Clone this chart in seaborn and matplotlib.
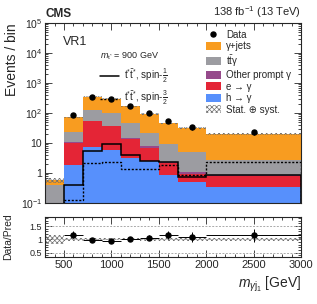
import matplotlib
matplotlib.use("Agg")
import matplotlib.pyplot as plt
import matplotlib.ticker as mticker
from matplotlib.lines import Line2D
from matplotlib.patches import Patch
import numpy as np
import pandas as pd
import seaborn as sns

# binning in m_gamma j1 [GeV]
bin_edges = [300, 500, 700, 900, 1100, 1300, 1500, 1700, 2000, 3000]

# background yields per bin
h_to_gamma = [0.02, 1.85, 7.4, 5.8, 3.2, 2.5, 0.85, 0.5, 0.34]
e_to_gamma = [0.01, 8.15, 45.6, 30.2, 10.3, 4.3, 1.25, 0.43, 0.46]
other_prompt = [0.01, 0.5, 2.0, 2.0, 1.2, 1.2, 0.2, 0.12, 0.05]
ttgamma = [0.36, 12.5, 71.0, 62.0, 31.3, 13.5, 7.0, 3.95, 1.85]
gamma_jets = [0.18, 50.0, 224.0, 205.0, 124.0, 72.5, 36.7, 26.6, 17.3]
bkg_rel_unc = [0.17, 0.05, 0.04, 0.04, 0.04, 0.05, 0.05, 0.06, 0.06]

# observed data
data = [np.nan, 86, 340, 290, 170, 100, 54, 34, 23]
data_err = [np.nan, 9.3, 18.4, 17.0, 13.0, 10.0, 7.3, 5.8, 4.8]

# signal, m_t* = 900 GeV
spin_half = [0.05, 0.4, 5.5, 9.3, 4.0, 2.6, 2.3, 0.74, 0.87]
spin_threehalf = [0.04, 0.13, 2.15, 2.3, 1.36, 1.36, 1.8, 0.85, 2.3]

proc_names = ["γ+jets", r"$\mathrm{t\bar{t}}$γ", "Other prompt γ", "e → γ", "h → γ"]
proc_colors = ["#f89c20", "#9c9ca1", "#964a8b", "#e42536", "#5790fc"]
proc_values = [gamma_jets, ttgamma, other_prompt, e_to_gamma, h_to_gamma]

sns.set_theme(style="ticks")
plt.rcParams["font.family"] = ["Liberation Sans", "DejaVu Sans"]
plt.rcParams["mathtext.fontset"] = "custom"
plt.rcParams["mathtext.rm"] = "Liberation Sans"
plt.rcParams["mathtext.it"] = "Liberation Sans:italic"
plt.rcParams["mathtext.bf"] = "Liberation Sans:bold"
plt.rcParams["hatch.linewidth"] = 0.5

HATCH = "xxxxxxx"
HATCH_COL = "#707070"

edges = np.array(bin_edges, dtype=float)
centers = (edges[:-1] + edges[1:]) / 2
widths = np.diff(edges)
total = np.sum(np.array(proc_values), axis=0)
unc = np.array(bkg_rel_unc)

df = pd.DataFrame({
    "mass": np.tile(centers, len(proc_names)),
    "events": np.concatenate(proc_values),
    "process": np.repeat(proc_names, len(centers)),
})

fig = plt.figure(figsize=(3.17, 3.04), dpi=100)
ax = fig.add_axes([0.142, 0.332, 0.808, 0.592])
rax = fig.add_axes([0.142, 0.155, 0.808, 0.131])

ax.set_yscale("log")
sns.histplot(
    df, x="mass", weights="events", hue="process", hue_order=proc_names,
    bins=bin_edges, multiple="stack", element="step", palette=proc_colors,
    alpha=1, linewidth=0, legend=False, ax=ax,
)
ax.bar(edges[:-1], 2 * unc * total, bottom=total * (1 - unc), width=widths,
       align="edge", color="none", hatch=HATCH, edgecolor=HATCH_COL, linewidth=0)
ax.stairs(spin_half, edges, color="black", lw=1.1)
ax.stairs(spin_threehalf, edges, color="black", lw=1.0, ls=(0, (1.5, 1.2)))
ax.errorbar(centers, data, yerr=data_err, fmt="o", color="black",
            ms=3.6, elinewidth=0.7, capsize=0)

ax.set_xlim(300, 3000)
ax.set_ylim(0.1, 1e5)
ax.set_xlabel("")
ax.set_ylabel("Events / bin", fontsize=10, loc="top")
ax.yaxis.set_label_coords(-0.1, 1.0)
ax.tick_params(labelbottom=False)


def log_label(v, pos):
    if np.isclose(v, 1):
        return "1"
    if np.isclose(v, 10):
        return "10"
    return r"$10^{%d}$" % int(round(np.log10(v)))


# ratio panel
ratio = np.array(data) / total
ratio_err = np.array(data_err) / total
rax.bar(edges[:-1], 2 * unc, bottom=1 - unc, width=widths, align="edge",
        color="none", hatch=HATCH, edgecolor=HATCH_COL, linewidth=0)
for lvl in [0.5, 1.0, 1.5]:
    rax.axhline(lvl, color="#aaaaaa", lw=0.7, ls=(0, (2, 1.5)))
rax.errorbar(centers, ratio, yerr=ratio_err, xerr=widths / 2, fmt="o", color="black",
             ms=3.6, elinewidth=0.7, capsize=0)
rax.set_xlim(300, 3000)
rax.set_ylim(0.34, 1.84)
rax.set_ylabel("Data/Pred", fontsize=7.5)
rax.yaxis.set_label_coords(-0.125, 0.5)
rax.set_xlabel(r"$m_{\gamma \mathrm{j}_1}$ [GeV]", fontsize=10, loc="right")
rax.xaxis.set_label_coords(1.0, -0.45)
rax.yaxis.set_major_locator(mticker.FixedLocator([0.5, 1, 1.5]))
rax.yaxis.set_major_formatter(mticker.FixedFormatter(["0.5", "1", "1.5"]))
rax.yaxis.set_minor_locator(mticker.MultipleLocator(0.1))

for a in (ax, rax):
    a.xaxis.set_major_locator(mticker.MultipleLocator(500))
    a.xaxis.set_minor_locator(mticker.MultipleLocator(100))
    a.tick_params(which="both", direction="in", top=True, right=True, width=0.6)
    a.tick_params(which="major", length=5, labelsize=8, pad=2)
    a.tick_params(which="minor", length=2.5)
    for s in a.spines.values():
        s.set_linewidth(0.8)
ax.yaxis.set_major_locator(mticker.LogLocator(base=10, numticks=10))
ax.yaxis.set_major_formatter(mticker.FuncFormatter(log_label))
ax.yaxis.set_minor_locator(mticker.LogLocator(base=10, subs=np.arange(2, 10), numticks=20))
ax.yaxis.set_minor_formatter(mticker.NullFormatter())
ax.tick_params(axis="y", labelsize=7.5)
rax.tick_params(axis="y", labelsize=6.5)

# texts
fig.text(0.142, 0.935, "CMS", fontsize=8.5, fontweight="bold", ha="left", va="bottom")
fig.text(0.95, 0.935, r"138 fb$^{-1}$ (13 TeV)", fontsize=8, ha="right", va="bottom")
ax.text(0.07, 0.93, "VR1", transform=ax.transAxes, fontsize=9, va="top")

bkg_handles = [Line2D([], [], marker="o", color="black", ls="none", ms=3.6)]
bkg_handles += [Patch(facecolor=c, edgecolor="none") for c in proc_colors]
bkg_handles.append(Patch(facecolor="white", edgecolor=HATCH_COL, hatch=HATCH, lw=0))
leg1 = ax.legend(bkg_handles, ["Data"] + proc_names + ["Stat. ⊕ syst."],
                 loc="upper left", bbox_to_anchor=(0.6, 1.0), frameon=False,
                 fontsize=7, handlelength=1.6, handleheight=0.9, labelspacing=0.15,
                 handletextpad=0.5, borderaxespad=0.3)
ax.add_artist(leg1)

sig_handles = [Line2D([], [], color="black", lw=1.1),
               Line2D([], [], color="black", lw=1.0, ls=(0, (1.5, 1.2)))]
sig_labels = [r"$\mathrm{t^{*}\bar{t}^{*}}$, spin-$\frac{1}{2}$",
              r"$\mathrm{t^{*}\bar{t}^{*}}$, spin-$\frac{3}{2}$"]
leg2 = ax.legend(sig_handles, sig_labels, loc="upper left", bbox_to_anchor=(0.18, 0.895),
                 frameon=False, fontsize=7, handlelength=2.0, labelspacing=0.45,
                 title=r"$m_{\mathrm{t}^{*}}$ = 900 GeV", title_fontsize=6.5,
                 handletextpad=0.5)
leg2._legend_box.align = "left"

fig.savefig("out.png", dpi=100)
